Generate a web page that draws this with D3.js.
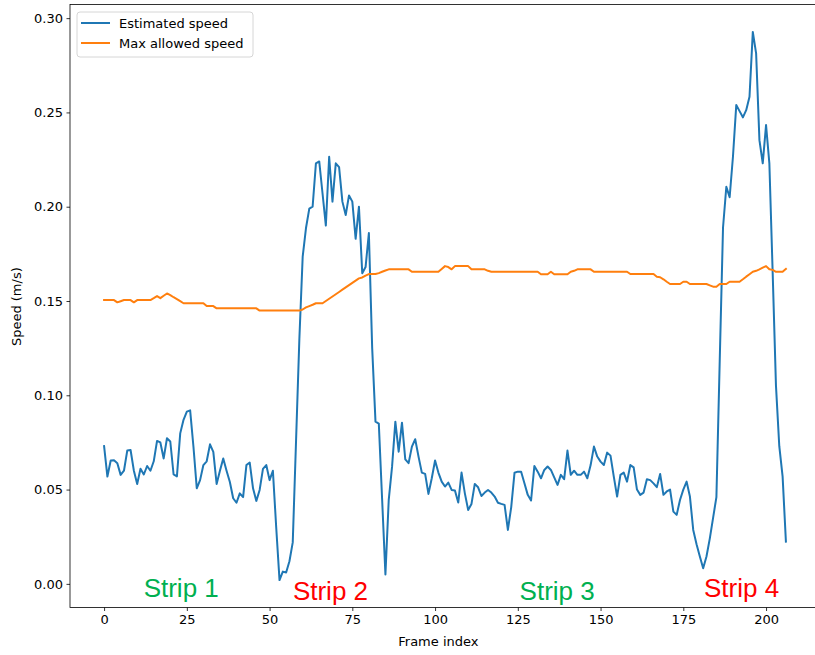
<!DOCTYPE html>
<html>
<head>
<meta charset="utf-8">
<script src="https://cdn.jsdelivr.net/npm/d3@7"></script>
<style>
  html, body { margin: 0; padding: 0; background: #fff; }
  svg { display: block; }
</style>
</head>
<body>
<svg id="chart" width="815" height="655"></svg>
<script>
// ---------- data ----------
const estimatedSpeed = [
  0.0731, 0.0569, 0.0654, 0.0655, 0.0640, 0.0578, 0.0600, 0.0707, 0.0710, 0.0600,
  0.0530, 0.0610, 0.0580, 0.0625, 0.0600, 0.0650, 0.0758, 0.0750, 0.0665, 0.0772,
  0.0755, 0.0580, 0.0570, 0.0798, 0.0870, 0.0913, 0.0920, 0.0727, 0.0507, 0.0550,
  0.0630, 0.0650, 0.0740, 0.0700, 0.0530, 0.0600, 0.0665, 0.0600, 0.0540, 0.0454,
  0.0430, 0.0480, 0.0460, 0.0630, 0.0643, 0.0507, 0.0440, 0.0498, 0.0610, 0.0630,
  0.0550, 0.0600, 0.0300, 0.0020, 0.0065, 0.0060, 0.0120, 0.0220, 0.0760, 0.1300,
  0.1735, 0.1887, 0.1990, 0.2000, 0.2230, 0.2240, 0.2070, 0.1900, 0.2265, 0.2027,
  0.2230, 0.2210, 0.2027, 0.1956, 0.2060, 0.2027, 0.1830, 0.2000, 0.1647, 0.1680,
  0.1860, 0.1250, 0.0860, 0.0850, 0.0450, 0.0050, 0.0445, 0.0620, 0.0860, 0.0701,
  0.0855, 0.0660, 0.0640, 0.0728, 0.0767, 0.0675, 0.0590, 0.0583, 0.0477, 0.0560,
  0.0654, 0.0590, 0.0542, 0.0516, 0.0537, 0.0498, 0.0495, 0.0431, 0.0590, 0.0480,
  0.0392, 0.0424, 0.0530, 0.0512, 0.0466, 0.0484, 0.0498, 0.0484, 0.0463, 0.0430,
  0.0424, 0.0419, 0.0286, 0.0406, 0.0589, 0.0595, 0.0595, 0.0534, 0.0472, 0.0442,
  0.0625, 0.0595, 0.0560, 0.0604, 0.0622, 0.0604, 0.0565, 0.0525, 0.0578, 0.0555,
  0.0707, 0.0578, 0.0600, 0.0578, 0.0578, 0.0595, 0.0560, 0.0630, 0.0728, 0.0675,
  0.0648, 0.0630, 0.0696, 0.0680, 0.0569, 0.0463, 0.0578, 0.0590, 0.0542, 0.0630,
  0.0618, 0.0500, 0.0472, 0.0484, 0.0555, 0.0550, 0.0533, 0.0513, 0.0583, 0.0472,
  0.0490, 0.0500, 0.0383, 0.0366, 0.0445, 0.0500, 0.0542, 0.0463, 0.0286, 0.0210,
  0.0145, 0.0083, 0.0145, 0.0240, 0.0350, 0.0460, 0.1180, 0.1890, 0.2106, 0.2050,
  0.2265, 0.2539, 0.2507, 0.2474, 0.2512, 0.2583, 0.2927, 0.2813, 0.2353, 0.2230,
  0.2433, 0.2230, 0.1650, 0.1050, 0.0730, 0.0570, 0.0224
];

const maxAllowedSpeed = [
  0.1505, 0.1505, 0.1505, 0.1505, 0.1493, 0.1499, 0.1505, 0.1505, 0.1505, 0.1493,
  0.1505, 0.1505, 0.1505, 0.1505, 0.1505, 0.1515, 0.1526, 0.1515, 0.1528, 0.1540,
  0.1531, 0.1520, 0.1510, 0.1499, 0.1488, 0.1488, 0.1488, 0.1488, 0.1488, 0.1488,
  0.1488, 0.1473, 0.1473, 0.1473, 0.1461, 0.1461, 0.1461, 0.1461, 0.1461, 0.1461,
  0.1461, 0.1461, 0.1461, 0.1461, 0.1461, 0.1461, 0.1461, 0.1449, 0.1449, 0.1449,
  0.1449, 0.1449, 0.1449, 0.1449, 0.1449, 0.1449, 0.1449, 0.1449, 0.1449, 0.1449,
  0.1455, 0.1466, 0.1473, 0.1480, 0.1488, 0.1488, 0.1488, 0.1500, 0.1512, 0.1524,
  0.1536, 0.1548, 0.1560, 0.1572, 0.1584, 0.1596, 0.1608, 0.1620, 0.1625, 0.1635,
  0.1643, 0.1643, 0.1643, 0.1648, 0.1655, 0.1662, 0.1668, 0.1668, 0.1668, 0.1668,
  0.1668, 0.1668, 0.1668, 0.1655, 0.1655, 0.1655, 0.1655, 0.1655, 0.1655, 0.1655,
  0.1655, 0.1655, 0.1670, 0.1685, 0.1680, 0.1668, 0.1685, 0.1685, 0.1685, 0.1685,
  0.1685, 0.1668, 0.1668, 0.1668, 0.1668, 0.1668, 0.1660, 0.1655, 0.1655, 0.1655,
  0.1655, 0.1655, 0.1655, 0.1655, 0.1655, 0.1655, 0.1655, 0.1655, 0.1655, 0.1655,
  0.1655, 0.1655, 0.1642, 0.1642, 0.1642, 0.1655, 0.1642, 0.1642, 0.1642, 0.1642,
  0.1642, 0.1655, 0.1660, 0.1668, 0.1668, 0.1668, 0.1668, 0.1668, 0.1655, 0.1655,
  0.1655, 0.1655, 0.1655, 0.1655, 0.1655, 0.1655, 0.1655, 0.1655, 0.1655, 0.1643,
  0.1643, 0.1643, 0.1643, 0.1643, 0.1643, 0.1643, 0.1643, 0.1629, 0.1626, 0.1615,
  0.1602, 0.1590, 0.1590, 0.1590, 0.1590, 0.1602, 0.1602, 0.1590, 0.1590, 0.1590,
  0.1590, 0.1590, 0.1590, 0.1583, 0.1576, 0.1576, 0.1590, 0.1590, 0.1590, 0.1602,
  0.1602, 0.1602, 0.1602, 0.1615, 0.1629, 0.1642, 0.1655, 0.1660, 0.1668, 0.1677,
  0.1685, 0.1668, 0.1665, 0.1655, 0.1655, 0.1655, 0.1670
];

const seriesNames = ["Estimated speed", "Max allowed speed"];
const seriesColors = ["#1f77b4", "#ff7f0e"];

const xTicks = [0, 25, 50, 75, 100, 125, 150, 175, 200];
const yTicks = [0.00, 0.05, 0.10, 0.15, 0.20, 0.25, 0.30];

const stripLabels = ["Strip 1", "Strip 2", "Strip 3", "Strip 4"];
const stripColors = ["#00b050", "#ff0000", "#00b050", "#ff0000"];
const stripX = [23.3, 68.4, 136.9, 192.6];
const stripY = [-0.0068, -0.0085, -0.0085, -0.0068];

const xLabel = "Frame index";
const yLabel = "Speed (m/s)";

// ---------- layout ----------
const svg = d3.select("#chart");
const W = 815, H = 655;
svg.append("rect").attr("width", W).attr("height", H).attr("fill", "#fff");

const plot = { left: 70, top: 4.5, width: 750, height: 603 };
const n = estimatedSpeed.length;
const xPad = 0.05 * (n - 1);
const allVals = estimatedSpeed.concat(maxAllowedSpeed);
const [yMin, yMax] = d3.extent(allVals);
const yPad = 0.05 * (yMax - yMin);

const x = d3.scaleLinear()
  .domain([-xPad, (n - 1) + xPad])
  .range([plot.left, plot.left + plot.width]);
const y = d3.scaleLinear()
  .domain([yMin - yPad, yMax + yPad])
  .range([plot.top + plot.height, plot.top]);

const font = "'DejaVu Sans', sans-serif";
const fs = 13;

// clip
svg.append("defs").append("clipPath").attr("id", "clip")
  .append("rect")
  .attr("x", plot.left).attr("y", plot.top)
  .attr("width", plot.width).attr("height", plot.height);

// lines
const line = d3.line().x((d, i) => x(i)).y(d => y(d));
const g = svg.append("g").attr("clip-path", "url(#clip)");
[estimatedSpeed, maxAllowedSpeed].forEach((s, k) => {
  g.append("path")
    .datum(s)
    .attr("fill", "none")
    .attr("stroke", seriesColors[k])
    .attr("stroke-width", 2)
    .attr("stroke-linejoin", "round")
    .attr("stroke-linecap", "square")
    .attr("d", line);
});

// strip labels
svg.append("g").selectAll("text")
  .data(stripLabels)
  .join("text")
  .attr("x", (d, i) => x(stripX[i]))
  .attr("y", (d, i) => y(stripY[i]))
  .attr("text-anchor", "middle")
  .attr("font-family", "'Liberation Sans', Arial, sans-serif")
  .attr("font-size", 26)
  .attr("fill", (d, i) => stripColors[i])
  .text(d => d);

// axes
const xAxis = d3.axisBottom(x).tickValues(xTicks).tickFormat(d3.format("d"))
  .tickSize(3.5).tickPadding(3.5);
const yAxis = d3.axisLeft(y).tickValues(yTicks).tickFormat(d3.format(".2f"))
  .tickSize(3.5).tickPadding(3.5);

const gx = svg.append("g")
  .attr("transform", `translate(0,${plot.top + plot.height})`)
  .call(xAxis);
const gy = svg.append("g")
  .attr("transform", `translate(${plot.left},0)`)
  .call(yAxis);
[gx, gy].forEach(a => {
  a.select(".domain").remove();
  a.selectAll("line").attr("stroke", "#000").attr("stroke-width", 0.8);
  a.selectAll("text").attr("font-family", font).attr("font-size", fs).attr("fill", "#000");
});

// spines
svg.append("rect")
  .attr("x", plot.left).attr("y", plot.top)
  .attr("width", plot.width).attr("height", plot.height)
  .attr("fill", "none").attr("stroke", "#000").attr("stroke-width", 0.8);

// axis labels
svg.append("text")
  .attr("x", plot.left + (x(206) - plot.left) / 2 + 30)
  .attr("x", x(101))
  .attr("y", 646)
  .attr("text-anchor", "middle")
  .attr("font-family", font).attr("font-size", fs)
  .text(xLabel);
svg.append("text")
  .attr("transform", `translate(21,${y(0.147)}) rotate(-90)`)
  .attr("text-anchor", "middle")
  .attr("font-family", font).attr("font-size", fs)
  .text(yLabel);

// legend
const lg = svg.append("g").attr("transform", "translate(77,12)");
lg.append("rect")
  .attr("width", 176).attr("height", 45).attr("rx", 3)
  .attr("fill", "#fff").attr("fill-opacity", 0.8)
  .attr("stroke", "#cccccc").attr("stroke-width", 0.8);
seriesNames.forEach((name, k) => {
  const cy = 11 + k * 20;
  lg.append("line")
    .attr("x1", 4).attr("x2", 33).attr("y1", cy).attr("y2", cy)
    .attr("stroke", seriesColors[k]).attr("stroke-width", 2);
  lg.append("text")
    .attr("x", 42).attr("y", cy).attr("dy", "0.35em")
    .attr("font-family", font).attr("font-size", fs)
    .text(name);
});
</script>
</body>
</html>
